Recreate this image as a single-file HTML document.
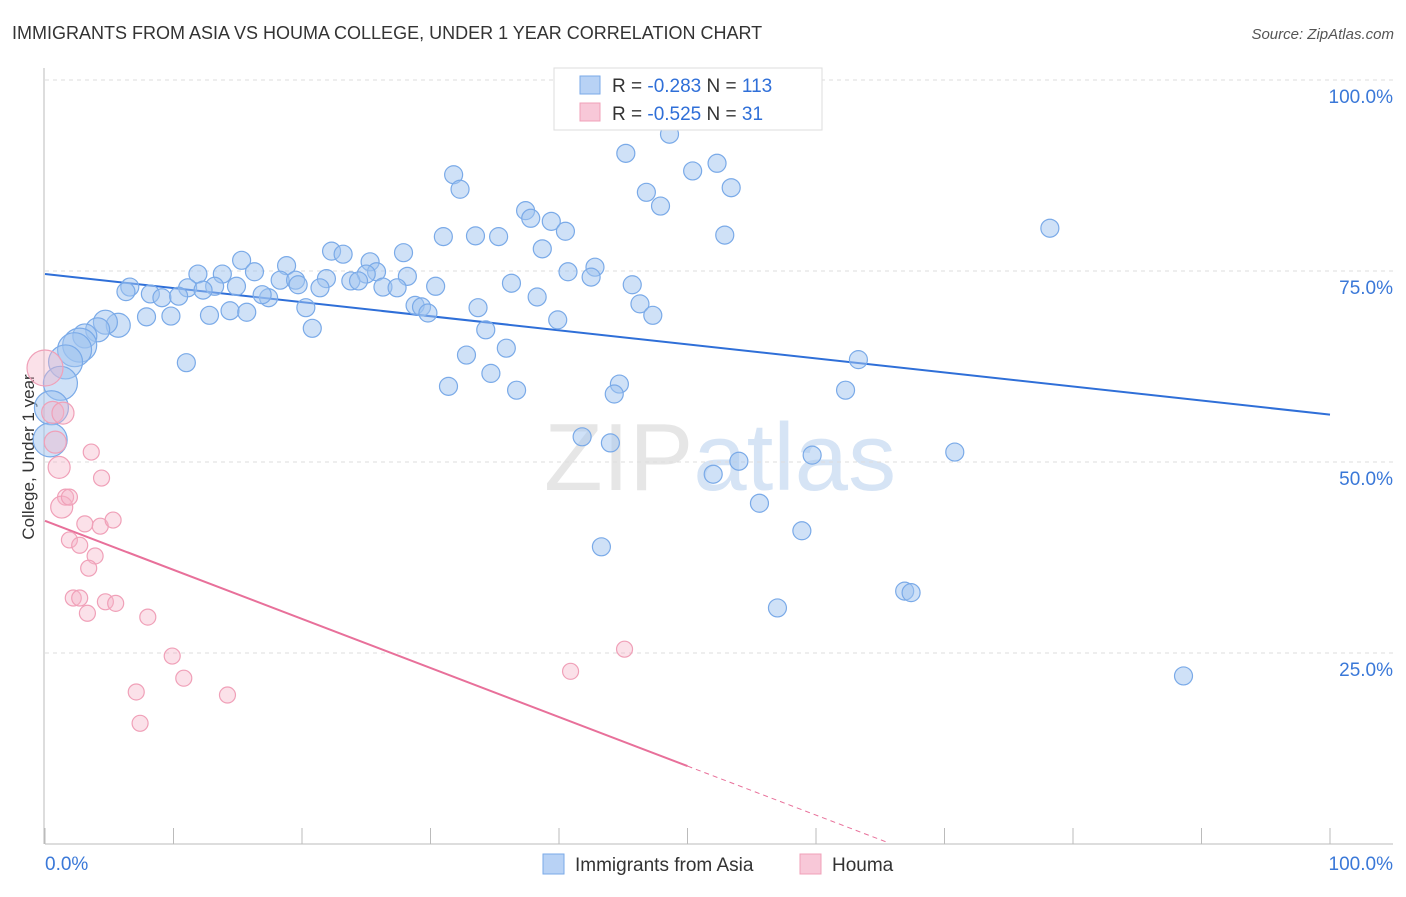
<!DOCTYPE html>
<html><head><meta charset="utf-8"><style>
body{margin:0;background:#fff;font-family:"Liberation Sans",sans-serif;}
svg text{font-family:"Liberation Sans",sans-serif;}
</style></head><body>
<svg id="c" width="1406" height="892" viewBox="0 0 1406 892">
<text x="12" y="39" font-size="18" fill="#333">IMMIGRANTS FROM ASIA VS HOUMA COLLEGE, UNDER 1 YEAR CORRELATION CHART</text>
<text x="1394" y="39" font-size="15" fill="#555" font-style="italic" text-anchor="end">Source: ZipAtlas.com</text>
<text x="720" y="490" font-size="96" fill="#e6e6e6" text-anchor="middle" font-family="Liberation Serif">ZIP<tspan fill="#d6e4f5" font-family="Liberation Sans">atlas</tspan></text>
<text transform="translate(34,457) rotate(-90)" font-size="17" fill="#333" text-anchor="middle">College, Under 1 year</text>
<g id="grid"></g><g id="ticks"></g><g id="lines"></g><g id="pts"></g>
<g>
<rect x="554" y="68" width="268" height="62" fill="#fff" stroke="#ddd"/>
<rect x="580" y="76" width="20" height="18" fill="#b8d2f5" stroke="#7aaae8"/>
<text x="612" y="92" font-size="19" fill="#333">R = <tspan fill="#2f6fd8">-0.283</tspan>   N = <tspan fill="#2f6fd8">113</tspan></text>
<rect x="580" y="103" width="20" height="18" fill="#f8c8d8" stroke="#f0a0b8"/>
<text x="612" y="120" font-size="19" fill="#333">R = <tspan fill="#2f6fd8">-0.525</tspan>   N = <tspan fill="#2f6fd8">  31</tspan></text>
</g>
<g>
<rect x="543" y="854" width="21" height="20" fill="#b8d2f5" stroke="#7aaae8"/>
<text x="575" y="871" font-size="19" fill="#333">Immigrants from Asia</text>
<rect x="800" y="854" width="21" height="20" fill="#f8c8d8" stroke="#f0a0b8"/>
<text x="832" y="871" font-size="19" fill="#333">Houma</text>
</g>
</svg>
<script>
const blueX=[48.6,45.2,52.3,50.4,31.8,53.4,32.3,46.8,47.9,37.4,37.8,39.4,40.5,52.9,31.0,33.5,35.3,38.7,78.2,22.3,23.2,27.9,15.3,25.3,18.8,42.8,40.7,25.8,11.9,13.8,16.3,25.0,28.2,21.9,18.3,19.5,42.5,36.3,30.4,45.7,6.6,14.9,13.2,11.1,19.7,21.4,23.8,24.4,26.3,27.4,6.3,8.2,9.1,10.4,12.3,17.4,16.9,38.3,28.8,29.3,29.8,46.3,20.3,33.7,12.8,14.4,15.7,7.9,9.8,47.3,39.9,20.8,34.3,5.7,4.7,4.1,3.1,2.7,2.3,1.6,1.2,0.5,0.4,11.0,32.8,35.9,63.3,34.7,31.4,44.7,44.3,36.7,62.3,41.8,44.0,54.0,52.0,59.7,70.8,55.6,58.9,43.3,57.0,66.9,67.4,88.6];
const blueY=[92.9,90.4,89.1,88.1,87.6,85.9,85.7,85.3,83.5,82.9,81.9,81.5,80.2,79.7,79.5,79.6,79.5,77.9,80.6,77.6,77.2,77.4,76.4,76.2,75.7,75.5,74.9,74.9,74.6,74.6,74.9,74.6,74.3,74.0,73.8,73.8,74.2,73.4,73.0,73.2,72.9,73.0,73.0,72.8,73.2,72.8,73.7,73.7,72.9,72.8,72.3,72.0,71.5,71.7,72.5,71.5,71.9,71.6,70.5,70.3,69.5,70.7,70.2,70.2,69.2,69.8,69.6,69.0,69.1,69.2,68.6,67.5,67.3,67.9,68.3,67.3,66.5,65.3,64.7,63.1,60.3,57.1,52.9,63.0,64.0,64.9,63.4,61.6,59.9,60.2,58.9,59.4,59.4,53.3,52.5,50.1,48.4,50.9,51.3,44.6,41.0,38.9,30.9,33.1,32.9,22.0];
const pinkX=[0,0.6,0.8,1.4,1.1,3.6,4.4,1.6,1.3,1.9,3.1,4.3,5.3,1.9,2.7,3.9,3.4,2.2,2.7,3.3,4.7,5.5,8.0,9.9,10.8,7.1,14.2,7.4,40.9,45.1];
const pinkY=[62.3,56.5,52.6,56.4,49.3,51.3,47.9,45.4,44.1,45.4,41.9,41.6,42.4,39.8,39.1,37.7,36.1,32.2,32.2,30.2,31.7,31.5,29.7,24.6,21.7,19.9,19.5,15.8,22.6,25.5];
const yTicks=[25,50,75,100];
const xTickLabels=["0.0%","100.0%"];
const blueTrend=[74.6,56.2];
const pinkTrend=[42.3,-0.642];
const NS='http://www.w3.org/2000/svg';
const X=v=>45+v*12.85, Y=v=>844-v*7.64;
function mk(p,t,a){const e=document.createElementNS(NS,t);for(const k in a)e.setAttribute(k,a[k]);p.appendChild(e);return e;}
const grid=document.getElementById('grid'),ticks=document.getElementById('ticks'),lines=document.getElementById('lines'),pts=document.getElementById('pts');
yTicks.forEach(v=>{
 const l=mk(grid,'line',{x1:45,x2:1393,y1:Y(v),y2:Y(v),stroke:'#ddd','stroke-dasharray':'4,4'});
 
 
 const t=mk(ticks,'text',{x:1393,y:Y(v)+23,'font-size':19,fill:'#3a78d8','text-anchor':'end'});
 t.textContent=v.toFixed(1)+'%';
 
 
});
const ax=mk(ticks,'line',{x1:45,x2:1393,y1:844,y2:844,stroke:'#bbb'});


const ay=mk(ticks,'line',{x1:44,x2:44,y1:68,y2:844,stroke:'#bbb'});


for(let i=0;i<=10;i++){const l=mk(ticks,'line',{x1:X(i*10),x2:X(i*10),y1:828,y2:844,stroke:'#bbb'});
 
 }
const t0=mk(ticks,'text',{x:45,y:870,'font-size':19,fill:'#3a78d8'});t0.textContent=xTickLabels[0];


const t1=mk(ticks,'text',{x:1393,y:870,'font-size':19,fill:'#3a78d8','text-anchor':'end'});t1.textContent=xTickLabels[1];


blueX.forEach((x,i)=>{const r=x<3?17:(x<6?12:9);
 const c=mk(pts,'circle',{cx:X(x),cy:Y(blueY[i]),r:r,fill:'rgba(160,196,240,0.5)',stroke:'#7aaae8','stroke-width':1.2});
 
 });
pinkX.forEach((x,i)=>{const r=i==0?18:(x<1.5?11:8);
 const c=mk(pts,'circle',{cx:X(x),cy:Y(pinkY[i]),r:r,fill:'rgba(245,180,200,0.4)',stroke:'#f0a0b8','stroke-width':1.2});
 
 });
const bl=mk(lines,'line',{x1:X(0),y1:Y(blueTrend[0]),x2:X(100),y2:Y(blueTrend[1]),stroke:'#2f6fd8','stroke-width':2});


const pe=v=>pinkTrend[0]+pinkTrend[1]*v;
const pl=mk(lines,'line',{x1:X(0),y1:Y(pe(0)),x2:X(50),y2:Y(pe(50)),stroke:'#e8709a','stroke-width':2});


const pd=mk(lines,'line',{x1:X(50),y1:Y(pe(50)),x2:X(65.6),y2:Y(pe(65.6)),stroke:'#e8709a','stroke-width':1,'stroke-dasharray':'5,4'});


</script>
</body></html>
